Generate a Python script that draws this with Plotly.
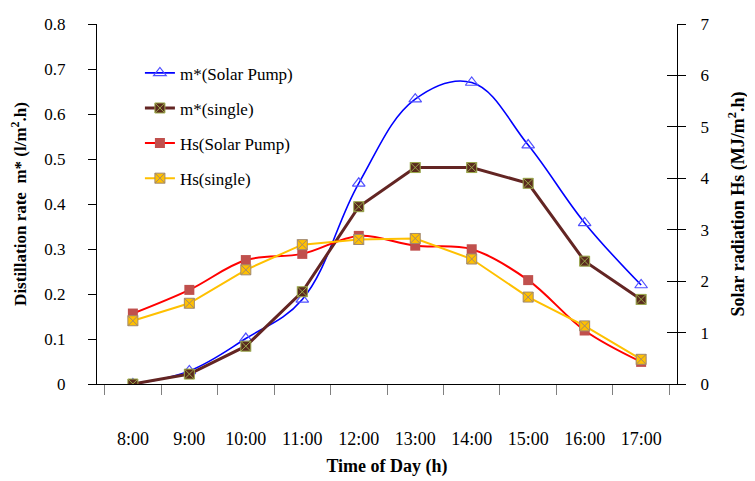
import plotly.graph_objects as go

hours = ["8:00", "9:00", "10:00", "11:00", "12:00", "13:00", "14:00", "15:00", "16:00", "17:00"]
m_solar_pump = [0.0, 0.029, 0.101, 0.188, 0.446, 0.633, 0.670, 0.531, 0.358, 0.220]
m_single = [0.0, 0.022, 0.084, 0.205, 0.394, 0.481, 0.481, 0.446, 0.273, 0.188]
hs_solar_pump = [1.37, 1.83, 2.41, 2.53, 2.88, 2.69, 2.62, 2.02, 1.04, 0.43]
hs_single = [1.23, 1.57, 2.22, 2.71, 2.81, 2.83, 2.43, 1.69, 1.13, 0.48]

FONT = "Liberation Serif, Times New Roman, serif"

fig = go.Figure()
fig.add_trace(go.Scatter(
    x=hours, y=m_solar_pump, name="m*(Solar Pump)", legendgroup="a",
    mode="lines+markers", line=dict(color="#0000ff", width=1.6, shape="spline", smoothing=1.1),
    marker=dict(symbol="triangle-up-open", size=11, color="#5050ff", line=dict(width=1.2)),
))
fig.add_trace(go.Scatter(
    x=hours, y=m_single, name="m*(single)", legendgroup="b",
    mode="lines+markers", line=dict(color="#632523", width=3),
    marker=dict(symbol="square-x", size=10, color="#5a2a1e", line=dict(color="#9aa84a", width=1)),
))
fig.add_trace(go.Scatter(
    x=hours, y=hs_solar_pump, name="Hs(Solar Pump)", legendgroup="c", yaxis="y2",
    mode="lines+markers", line=dict(color="#ff0000", width=2, shape="spline", smoothing=1),
    marker=dict(symbol="square", size=10, color="#c0504d", line=dict(width=0)),
))
fig.add_trace(go.Scatter(
    x=hours, y=hs_single, name="Hs(single)", legendgroup="d", yaxis="y2",
    mode="lines+markers", line=dict(color="#ffc000", width=2),
    marker=dict(symbol="square-x", size=10, color="#ffc000", line=dict(color="#a08870", width=1)),
))
# invisible trace to carry the inside ticks of the right axis
fig.add_trace(go.Scatter(x=hours, y=hs_single, yaxis="y3", mode="none", showlegend=False, hoverinfo="skip"))

fig.update_layout(
    width=755, height=481,
    margin=dict(l=89, r=86, t=16, b=105),
    paper_bgcolor="white", plot_bgcolor="white",
    font=dict(family=FONT, size=17, color="black"),
    showlegend=True,
    legend=dict(
        x=0.074, y=0.913, xanchor="left", yanchor="top",
        bgcolor="rgba(0,0,0,0)", font=dict(family=FONT, size=17),
        tracegroupgap=10, traceorder="grouped",
    ),
    xaxis=dict(
        type="category", showgrid=False, zeroline=False, automargin=False,
        showline=True, linecolor="black", linewidth=1,
        ticks="outside", ticklen=10, tickcolor="#808080", tickson="boundaries",
        ticklabelstandoff=38,
        tickfont=dict(family=FONT, size=18),
        title=dict(text="<b>Time of Day (h)</b>", font=dict(family=FONT, size=18), standoff=11),
    ),
    yaxis=dict(
        range=[0, 0.8], dtick=0.1, tickformat="~g", showgrid=False, zeroline=False, automargin=False,
        showline=True, linecolor="black", linewidth=1,
        ticks="outside", ticklen=8, tickcolor="black",
        ticklabelstandoff=19,
        tickfont=dict(family=FONT, size=17),
        title=dict(text="<b>Distillation rate  m* (l/m<sup>2</sup>.h)</b>", font=dict(family=FONT, size=17), standoff=14),
    ),
    yaxis2=dict(
        range=[0, 7], dtick=1, overlaying="y", side="right", showgrid=False, zeroline=False, automargin=False,
        showline=True, linecolor="black", linewidth=1,
        ticks="outside", ticklen=8, tickcolor="black",
        ticklabelstandoff=11,
        tickfont=dict(family=FONT, size=17),
        title=dict(text="<b>Solar radiation Hs (MJ/m<sup>2</sup>.h)</b>", font=dict(family=FONT, size=18), standoff=22),
    ),
    yaxis3=dict(
        range=[0, 7], dtick=1, overlaying="y", side="right", anchor="x", showgrid=False, zeroline=False,
        automargin=False, showline=False, ticks="inside", ticklen=10, tickcolor="black", showticklabels=False,
    ),
)

fig.write_html("out.html")
